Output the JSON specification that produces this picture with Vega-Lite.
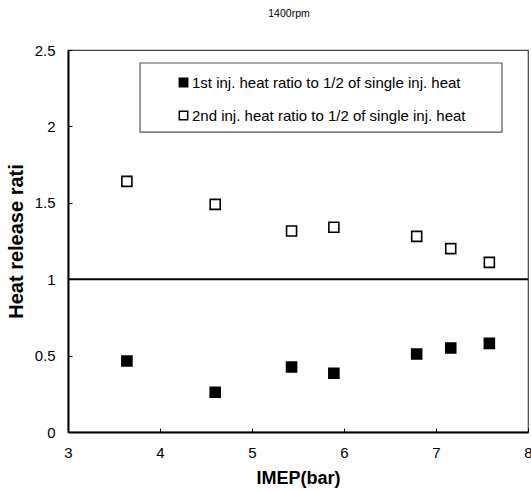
{
  "$schema": "https://vega.github.io/schema/vega-lite/v6.json",
  "width": 460,
  "height": 382,
  "autosize": {"type": "none"},
  "padding": {"left": 68, "top": 50, "right": 3, "bottom": 59},
  "background": "white",
  "title": {
    "text": "1400rpm",
    "fontSize": 10.5,
    "fontWeight": "normal",
    "font": "Liberation Sans",
    "color": "black",
    "offset": 24,
    "dx": -9
  },
  "config": {
    "font": "Liberation Sans",
    "view": {"stroke": "#444", "strokeWidth": 1.2},
    "axis": {
      "grid": false,
      "domainColor": "black",
      "domainWidth": 2,
      "tickColor": "black",
      "tickSize": -4,
      "labelColor": "black",
      "labelFontSize": 15,
      "labelFont": "Liberation Sans",
      "titleColor": "black",
      "titleFont": "Liberation Sans",
      "titleFontWeight": "bold"
    }
  },
  "datasets": {
    "points": [
      {"imep": 3.64, "ratio": 0.465, "series": "1st inj. heat ratio to 1/2 of single inj. heat"},
      {"imep": 4.60, "ratio": 0.26, "series": "1st inj. heat ratio to 1/2 of single inj. heat"},
      {"imep": 5.43, "ratio": 0.425, "series": "1st inj. heat ratio to 1/2 of single inj. heat"},
      {"imep": 5.89, "ratio": 0.384, "series": "1st inj. heat ratio to 1/2 of single inj. heat"},
      {"imep": 6.79, "ratio": 0.51, "series": "1st inj. heat ratio to 1/2 of single inj. heat"},
      {"imep": 7.16, "ratio": 0.55, "series": "1st inj. heat ratio to 1/2 of single inj. heat"},
      {"imep": 7.58, "ratio": 0.58, "series": "1st inj. heat ratio to 1/2 of single inj. heat"},
      {"imep": 3.64, "ratio": 1.64, "series": "2nd inj. heat ratio to 1/2 of single inj. heat"},
      {"imep": 4.60, "ratio": 1.49, "series": "2nd inj. heat ratio to 1/2 of single inj. heat"},
      {"imep": 5.43, "ratio": 1.315, "series": "2nd inj. heat ratio to 1/2 of single inj. heat"},
      {"imep": 5.89, "ratio": 1.34, "series": "2nd inj. heat ratio to 1/2 of single inj. heat"},
      {"imep": 6.79, "ratio": 1.28, "series": "2nd inj. heat ratio to 1/2 of single inj. heat"},
      {"imep": 7.16, "ratio": 1.20, "series": "2nd inj. heat ratio to 1/2 of single inj. heat"},
      {"imep": 7.58, "ratio": 1.11, "series": "2nd inj. heat ratio to 1/2 of single inj. heat"}
    ]
  },
  "layer": [
    {
      "data": {"values": [{}]},
      "mark": {"type": "rect", "fill": null, "fillOpacity": 0, "stroke": "#555", "strokeWidth": 1.2},
      "encoding": {
        "x": {"datum": 3.783, "type": "quantitative", "scale": {"domain": [3, 8], "nice": false}},
        "x2": {"datum": 7.717},
        "y": {"datum": 2.415, "type": "quantitative", "scale": {"domain": [0, 2.5], "nice": false}},
        "y2": {"datum": 1.963}
      }
    },
    {
      "data": {"values": [{}]},
      "mark": {"type": "rule", "color": "black", "strokeWidth": 2},
      "encoding": {
        "y": {"datum": 1, "type": "quantitative"}
      }
    },
    {
      "data": {"name": "points"},
      "mark": {"type": "point", "shape": "square", "size": 100, "stroke": "black", "strokeWidth": 1.6, "opacity": 1, "filled": true},
      "encoding": {
        "x": {
          "field": "imep",
          "type": "quantitative",
          "scale": {"domain": [3, 8], "nice": false},
          "axis": {
            "title": "IMEP(bar)",
            "values": [3, 4, 5, 6, 7, 8],
            "labelExpr": "datum.value",
            "labelPadding": 17,
            "titleFontSize": 18,
            "titlePadding": 9,
            "labelFlush": false
          }
        },
        "y": {
          "field": "ratio",
          "type": "quantitative",
          "scale": {"domain": [0, 2.5], "nice": false},
          "axis": {
            "title": "Heat release rati",
            "values": [0, 0.5, 1, 1.5, 2, 2.5],
            "labelExpr": "datum.value",
            "labelPadding": 17,
            "titleFontSize": 20,
            "titlePadding": 8
          }
        },
        "fill": {
          "field": "series",
          "type": "nominal",
          "scale": {
            "domain": ["1st inj. heat ratio to 1/2 of single inj. heat", "2nd inj. heat ratio to 1/2 of single inj. heat"],
            "range": ["black", "white"]
          },
          "legend": {
            "title": null,
            "orient": "none",
            "legendX": 108,
            "legendY": 25,
            "symbolType": "square",
            "symbolSize": 70,
            "symbolStrokeColor": "black",
            "symbolStrokeWidth": 1.5,
            "labelFontSize": 15,
            "labelColor": "black",
            "labelLimit": 400,
            "labelOffset": 1,
            "rowPadding": 17,
            "padding": 0
          }
        }
      }
    }
  ]
}
